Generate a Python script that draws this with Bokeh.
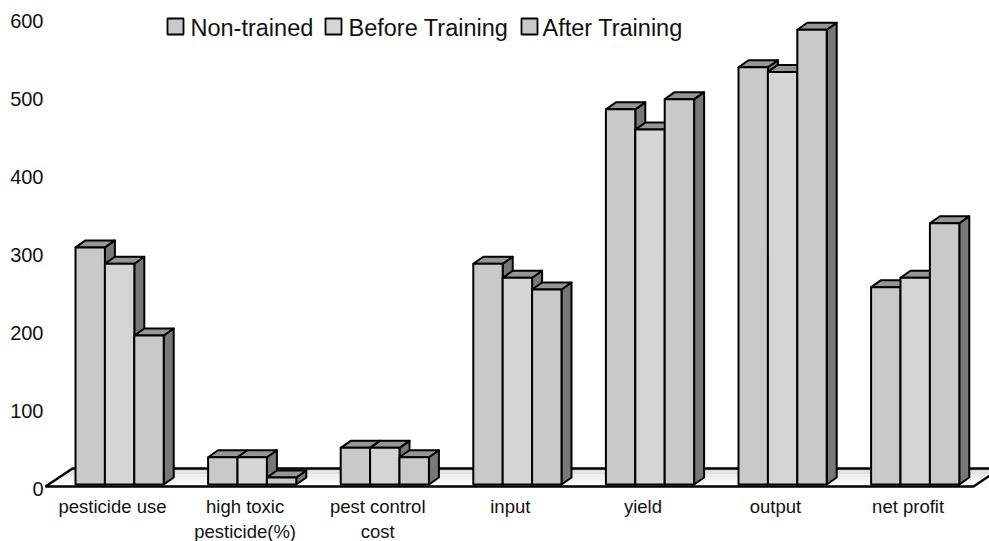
from bokeh.plotting import figure
from bokeh.models import Range1d, FixedTicker
from bokeh.core.properties import value
from bokeh.embed import file_html
from bokeh.resources import INLINE

categories = ["pesticide use", "high toxic\npesticide(%)", "pest control\ncost", "input", "yield", "output", "net profit"]
series_names = ["Non-trained", "Before Training", "After Training"]
non_trained = [304, 35, 47, 283, 481, 535, 253]
before_training = [283, 35, 47, 265, 455, 529, 265]
after_training = [191, 9, 35, 250, 494, 583, 335]
y_ticks = [0, 100, 200, 300, 400, 500, 600]

front_colors = ["#C9C9C9", "#D5D5D5", "#C9C9C9"]
top_color = "#969696"
side_color = "#787878"
FONT = "Liberation Sans"

W, H = 989, 541
L, R, T, B = 44, 0, 0, 0
PX_X = 132.6
PX_Y = 0.78
FX0, FX1 = L, W - R
FY0, FY1 = T, H - B
ZERO_X, ZERO_Y = 112, 488

def dx(px):
    return px / PX_X

def dy(px):
    return px / PX_Y

p = figure(width=W, height=H, output_backend="svg", toolbar_location=None,
           x_range=Range1d((FX0 - ZERO_X) / PX_X, (FX1 - ZERO_X) / PX_X),
           y_range=Range1d((ZERO_Y - FY1) / PX_Y, (ZERO_Y - FY0) / PX_Y),
           min_border_left=L, min_border_right=R, min_border_top=T, min_border_bottom=B,
           background_fill_color="white", border_fill_color="white")
p.outline_line_color = None
p.grid.visible = False

# axes
p.xaxis.ticker = FixedTicker(ticks=list(range(len(categories))))
p.xaxis.major_label_overrides = {i: c for i, c in enumerate(categories)}
p.xaxis.fixed_location = dy(ZERO_Y - 489)
p.yaxis.ticker = FixedTicker(ticks=y_ticks)
for ax in (p.xaxis[0], p.yaxis[0]):
    ax.axis_line_color = None
    ax.major_tick_line_color = None
    ax.minor_tick_line_color = None
    ax.major_tick_out = 0
    ax.major_tick_in = 0
    ax.major_label_text_font = FONT
    ax.major_label_text_color = "#111111"
p.xaxis.major_label_text_font_size = "18.5px"
p.yaxis.major_label_text_font_size = "20px"
p.xaxis.major_label_standoff = 6
p.yaxis.major_label_standoff = 1

# floor
floor_left_front = dx(45 - ZERO_X)
floor_right_front = dx(973 - ZERO_X)
floor_shift = dx(27)
floor_front = dy(ZERO_Y - 486)
floor_back = dy(ZERO_Y - 468)
STRIPS = ["#D8D8D8", "#E2E2E2", "#ECECEC", "#F4F4F4", "#FAFAFA", "#FFFFFF"]
xs, ys = [], []
for i in range(len(STRIPS)):
    a = i / len(STRIPS)
    b = (i + 1) / len(STRIPS)
    ya = floor_back + (floor_front - floor_back) * a
    yb = floor_back + (floor_front - floor_back) * b
    xa = floor_shift * (1 - a)
    xb = floor_shift * (1 - b)
    xs.append([floor_left_front + xa, floor_right_front + xa, floor_right_front + xb, floor_left_front + xb])
    ys.append([ya, ya, yb, yb])
p.patches(xs, ys, fill_color=STRIPS, line_color=None)
p.patch([floor_left_front, floor_left_front + floor_shift, floor_right_front + floor_shift, floor_right_front],
        [floor_front, floor_back, floor_back, floor_front],
        fill_color=None, line_color="black", line_width=2.4)

# 3-D bars
bar_w = dx(29.4)
depth_x = dx(10)
depth_y = dy(7)
group_off = dx(75 - ZERO_X)
base = dy(ZERO_Y - 484)
series = [non_trained, before_training, after_training]
for c in range(len(categories)):
    for s, vals in enumerate(series):
        x0 = c + group_off + s * bar_w
        x1 = x0 + bar_w
        y1 = base + vals[c]
        p.patch([x1, x1 + depth_x, x1 + depth_x, x1], [base, base + depth_y, y1 + depth_y, y1],
                fill_color=side_color, line_color="black", line_width=2, line_join="round")
        p.patch([x0, x0 + depth_x, x1 + depth_x, x1], [y1, y1 + depth_y, y1 + depth_y, y1],
                fill_color=top_color, line_color="black", line_width=2, line_join="round")
        p.quad(left=x0, right=x1, bottom=base, top=y1,
               fill_color=front_colors[s], line_color="black", line_width=2)

# legend
swatch_px = [167, 325, 521]
text_px = [190, 348, 542]
for name, color, sx, tx in zip(series_names, front_colors, swatch_px, text_px):
    x0 = dx(sx - ZERO_X)
    p.quad(left=x0, right=x0 + dx(16), bottom=dy(ZERO_Y - 34), top=dy(ZERO_Y - 18),
           fill_color=color, line_color="black", line_width=1.8)
    p.text([dx(tx - ZERO_X)], [dy(ZERO_Y - 27)], text=[name], text_font=value(FONT),
           text_font_size="23.5px", text_baseline="middle", text_align="left", text_color="#111111")

open("out.html", "w").write(file_html(p, INLINE))
